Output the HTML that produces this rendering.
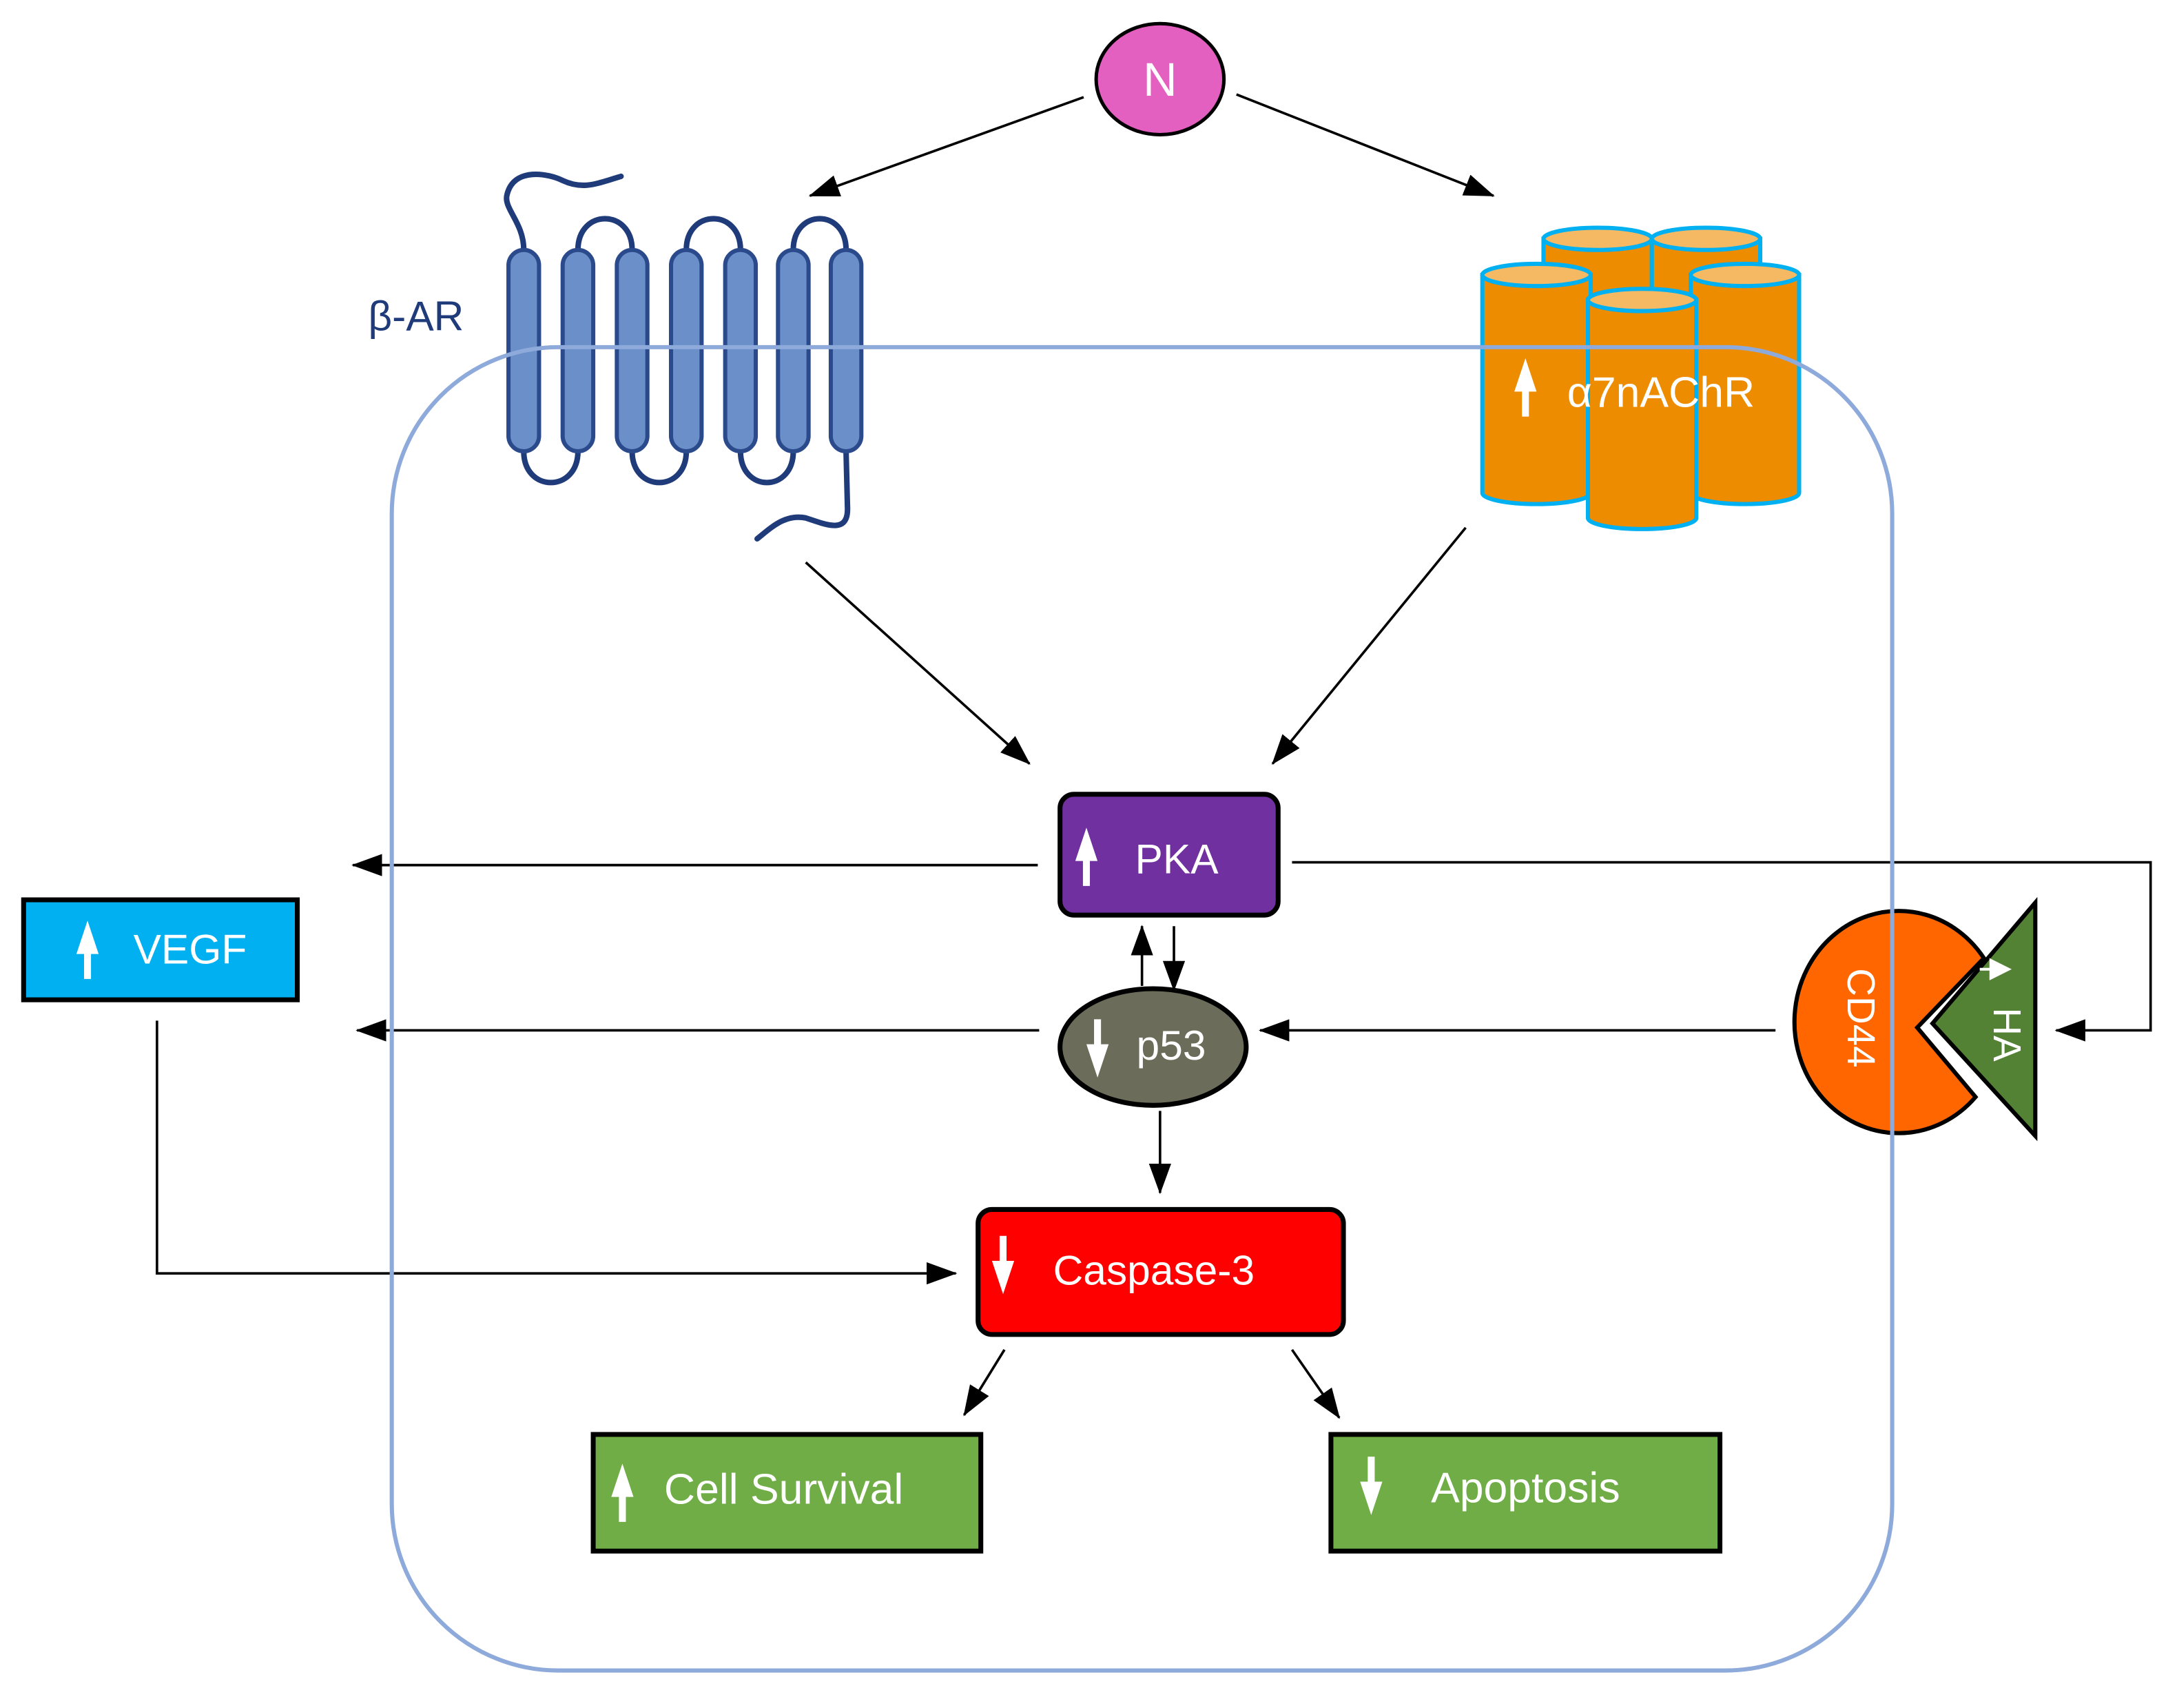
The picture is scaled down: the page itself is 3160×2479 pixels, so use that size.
<!DOCTYPE html>
<html><head><meta charset="utf-8"><style>
html,body{margin:0;padding:0;background:#fff;}
svg{display:block;}
text{font-family:"Liberation Sans","DejaVu Sans",sans-serif;}
</style></head><body>
<svg width="3160" height="2479" viewBox="0 0 1567 1230" preserveAspectRatio="none" xmlns="http://www.w3.org/2000/svg">
<defs>
<marker id="ahb" markerWidth="22" markerHeight="16" refX="21" refY="8" orient="auto" markerUnits="userSpaceOnUse" viewBox="0 0 22 16">
<path d="M0,0 L22,8 L0,16 z" fill="#000"/></marker>
<g id="up"><path d="M-8,10 L0,-14 L8,10 Z M-2.5,8 L2.5,8 L2.5,28 L-2.5,28 Z" fill="#fff"/></g>
<g id="dn"><path d="M-8,-10 L0,14 L8,-10 Z M-2.5,-8 L2.5,-8 L2.5,-28 L-2.5,-28 Z" fill="#fff"/></g>
</defs>

<!-- beta-AR receptor -->
<g stroke="#1f3b7a" stroke-width="4" fill="none" stroke-linecap="round">
<path d="M377,180 C377,160 362,150 365,140 C370,120 395,125 405,130 C420,137 430,132 447,127"/>
<path d="M416,180 C416,150 455,150 455,180"/>
<path d="M494,180 C494,150 533,150 533,180"/>
<path d="M571,180 C571,150 609,150 609,180"/>
<path d="M377,325 C377,355 416,355 416,325"/>
<path d="M455,325 C455,355 494,355 494,325"/>
<path d="M533,325 C533,355 571,355 571,325"/>
<path d="M609,325 L610,365 C611,385 595,378 580,373 C565,370 555,380 545,388"/>
</g>
<g fill="#6a8fc9" stroke="#2a4a8c" stroke-width="3">
<rect x="366" y="180" width="22" height="145" rx="11"/>
<rect x="405" y="180" width="22" height="145" rx="11"/>
<rect x="444" y="180" width="22" height="145" rx="11"/>
<rect x="483" y="180" width="22" height="145" rx="11"/>
<rect x="522" y="180" width="22" height="145" rx="11"/>
<rect x="560" y="180" width="22" height="145" rx="11"/>
<rect x="598" y="180" width="22" height="145" rx="11"/>
</g>
<text x="265" y="238" font-size="30" fill="#1f3b7a">β-AR</text>

<!-- alpha7nAChR cylinders -->
<g stroke="#00b0f0" stroke-width="3">
<path d="M1111,172 L1111,330 L1189,330 L1189,172 Z" fill="#ee8c00"/>
<ellipse cx="1150" cy="172" rx="39" ry="8" fill="#f5b964"/>
<path d="M1189,172 L1189,330 L1267,330 L1267,172 Z" fill="#ee8c00"/>
<ellipse cx="1228" cy="172" rx="39" ry="8" fill="#f5b964"/>
<path d="M1067,198 L1067,355 A39,8 0 0 0 1145,355 L1145,198 Z" fill="#ee8c00"/>
<ellipse cx="1106" cy="198" rx="39" ry="8" fill="#f5b964"/>
<path d="M1217,198 L1217,355 A39,8 0 0 0 1295,355 L1295,198 Z" fill="#ee8c00"/>
<ellipse cx="1256" cy="198" rx="39" ry="8" fill="#f5b964"/>
<path d="M1143,216 L1143,373 A39,8 0 0 0 1221,373 L1221,216 Z" fill="#ee8c00"/>
<ellipse cx="1182" cy="216" rx="39" ry="8" fill="#f5b964"/>
</g>

<!-- N -->
<ellipse cx="835" cy="57" rx="46" ry="40" fill="#e35fc0" stroke="#000" stroke-width="2.5"/>
<text x="835" y="69" font-size="34" fill="#fff" text-anchor="middle">N</text>

<!-- connectors -->
<g stroke="#000" stroke-width="1.8" fill="none">
<line x1="780" y1="70" x2="583" y2="141" marker-end="url(#ahb)"/>
<line x1="890" y1="68" x2="1075" y2="141" marker-end="url(#ahb)"/>
<line x1="580" y1="405" x2="741" y2="550" marker-end="url(#ahb)"/>
<line x1="1055" y1="380" x2="916" y2="550" marker-end="url(#ahb)"/>
<line x1="747" y1="623" x2="254" y2="623" marker-end="url(#ahb)"/>
<polyline points="930,621 1548,621 1548,742 1480,742" marker-end="url(#ahb)"/>
<line x1="748" y1="742" x2="257" y2="742" marker-end="url(#ahb)"/>
<line x1="1278" y1="742" x2="907" y2="742" marker-end="url(#ahb)"/>
<line x1="822" y1="710" x2="822" y2="667" marker-end="url(#ahb)"/>
<line x1="845" y1="667" x2="845" y2="713" marker-end="url(#ahb)"/>
<line x1="835" y1="800" x2="835" y2="859" marker-end="url(#ahb)"/>
<polyline points="113,735 113,917 688,917" marker-end="url(#ahb)"/>
<line x1="723" y1="972" x2="694" y2="1019" marker-end="url(#ahb)"/>
<line x1="930" y1="972" x2="964" y2="1021" marker-end="url(#ahb)"/>
</g>

<!-- PKA -->
<rect x="763" y="572" width="157" height="87" rx="10" fill="#7030a0" stroke="#000" stroke-width="3.5"/>
<use href="#up" x="782" y="610"/>
<text x="817" y="629" font-size="30" fill="#fff">PKA</text>

<!-- VEGF -->
<rect x="17" y="648" width="197" height="72" fill="#00b0f0" stroke="#000" stroke-width="3.5"/>
<use href="#up" x="63" y="677"/>
<text x="96" y="694" font-size="30" fill="#fff">VEGF</text>

<!-- p53 -->
<ellipse cx="830" cy="754" rx="67" ry="42" fill="#6b6d5a" stroke="#000" stroke-width="3.5"/>
<use href="#dn" x="790" y="762"/>
<text x="818" y="763" font-size="30" fill="#fff">p53</text>

<!-- Caspase-3 -->
<rect x="704" y="871" width="263" height="90" rx="10" fill="#ff0000" stroke="#000" stroke-width="3.5"/>
<use href="#dn" x="722" y="918"/>
<text x="758" y="925" font-size="30" fill="#fff">Caspase-3</text>

<!-- Cell Survival -->
<rect x="427" y="1033" width="279" height="84" fill="#70ad47" stroke="#000" stroke-width="3.5"/>
<use href="#up" x="448" y="1068"/>
<text x="478" y="1083" font-size="31" fill="#fff">Cell Survival</text>

<!-- Apoptosis -->
<rect x="958" y="1033" width="280" height="84" fill="#70ad47" stroke="#000" stroke-width="3.5"/>
<use href="#dn" x="987" y="1077"/>
<text x="1030" y="1082" font-size="31" fill="#fff">Apoptosis</text>

<!-- CD44 pacman -->
<path d="M1428,690 A75,80 0 1 0 1422,790 L1380,740 Z" fill="#ff6600" stroke="#000" stroke-width="3"/>
<text transform="translate(1330,733) rotate(90)" font-size="28" fill="#fff" text-anchor="middle">CD44</text>
<!-- HA triangle -->
<path d="M1465,650 L1465,818 L1391,737 Z" fill="#548235" stroke="#000" stroke-width="3"/>
<path d="M1432,690 L1448,698 L1432,706 Z M1425,697 L1434,697 L1434,699 L1425,699 Z" fill="#fff"/>
<text transform="translate(1435,745) rotate(90)" font-size="28" fill="#fff" text-anchor="middle">HA</text>

<!-- cell membrane (drawn on top, as in reference) -->
<rect x="282" y="250" width="1080" height="953" rx="120" ry="120" fill="none" stroke="#8eaadb" stroke-width="3"/>

<!-- α7nAChR label -->
<use href="#up" x="1098" y="272"/>
<text x="1128" y="293" font-size="31" fill="#fff">α7nAChR</text>
</svg>
</body></html>
